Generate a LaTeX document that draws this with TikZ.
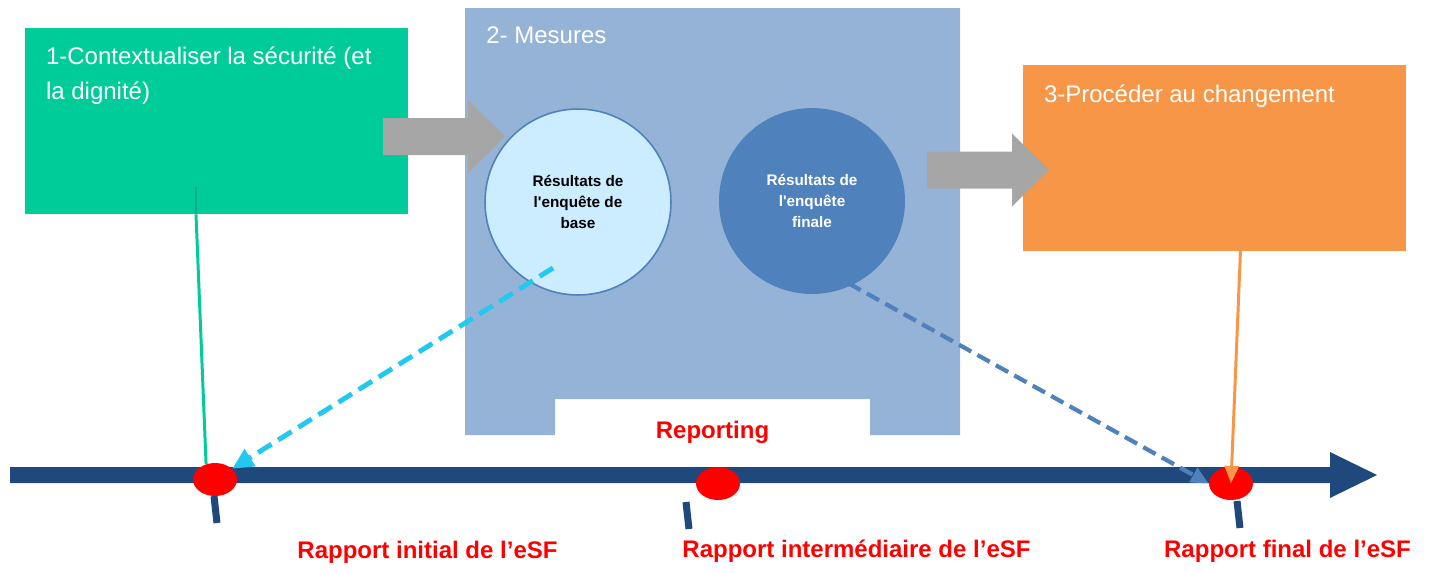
\documentclass[tikz,border=0pt]{standalone}
\usepackage{fontspec}
\setmainfont{Liberation Sans}
\usetikzlibrary{shapes,arrows.meta,positioning}

\definecolor{ctxgreen}{RGB}{0,204,153}
\definecolor{mesblue}{RGB}{149,179,215}
\definecolor{chgorange}{RGB}{247,150,70}
\definecolor{stepgray}{RGB}{166,166,166}
\definecolor{basefill}{RGB}{204,236,255}
\definecolor{finblue}{RGB}{79,129,189}
\definecolor{timeblue}{RGB}{31,73,125}
\definecolor{dashcyan}{RGB}{35,200,238}

\tikzset{
  phasebox/.style={rectangle, minimum width=7.66cm, minimum height=3.72cm, inner sep=0pt},
  phasetitle/.style={text=white, inner sep=0pt, align=left, font=\fontsize{13.66}{20.2}\selectfont},
  result/.style={circle, minimum size=3.72cm, inner sep=0pt, align=center, font=\fontsize{8.7}{11.95}\selectfont\bfseries},
  milestone/.style={ellipse, fill=red, minimum width=0.88cm, minimum height=0.66cm, inner sep=0pt},
  replabel/.style={text=red, inner sep=0pt, font=\fontsize{13.66}{16}\selectfont\bfseries},
  tickmark/.style={timeblue, line width=4pt},
}

\begin{document}
\begin{tikzpicture}[x=0.02cm, y=-0.02cm]
    \useasboundingbox (0,0) rectangle (1431,572);

    % Mesures panel with the reporting notch
    \fill[mesblue] (465,8) -- (960,8) -- (960,435) -- (870,435) -- (870,399)
        -- (555,399) -- (555,435) -- (465,435) -- cycle;
    \node[phasetitle, anchor=base west] (mestitle) at (486,43) {2- Mesures};

    \node[phasebox, fill=ctxgreen] (ctx) at (216.5,121) {};
    \node[phasetitle, below right=0.37cm and 0.42cm of ctx.north west] (ctxtitle)
        {1-Contextualiser la sécurité (et\\la dignité)};

    \node[phasebox, fill=chgorange] (chg) at (1214.5,158) {};
    \node[phasetitle, below right=0.40cm and 0.42cm of chg.north west] (chgtitle)
        {3-Procéder au changement};

    % gray step arrows
    \foreach \sx/\sy in {383/136.5,927/170} {
        \fill[stepgray] (\sx,\sy-18.5) -- ++(85,0) -- ++(0,-18) -- (\sx+122,\sy)
            -- (\sx+85,\sy+36.5) -- ++(0,-18) -- (\sx,\sy+18.5) -- cycle;
    }

    \node[result, fill=basefill, draw=finblue, line width=0.9pt] (base) at (578,202)
        {Résultats de\\l\textquotesingle enquête de\\base};
    \node[result, fill=finblue, text=white] (fin) at (812,201)
        {Résultats de\\l\textquotesingle enquête\\finale};

    % timeline
    \fill[timeblue] (10,467) -- (1330,467) -- (1330,452) -- (1377,475)
        -- (1330,498) -- (1330,483) -- (10,483) -- cycle;
    \draw[tickmark] (214,496) -- (217,523);
    \draw[tickmark] (686,502) -- (689,529);
    \draw[tickmark] (1237,501) -- (1240,528);

    \node[milestone] (dinit) at (215,479.5) {};
    \node[milestone] (dmid) at (718,483.5) {};
    \node[milestone] (dfinal) at (1231,483.5) {};

    \coordinate (ctxfoot) at (196,187);
    \coordinate (basefoot) at (553,268);
    \coordinate (finfoot) at (830,273);
    \coordinate (chgfoot) at (1241,238);

    \draw[ctxgreen!85!black, line width=1.7pt] (ctxfoot) -- (ctx.south -| ctxfoot);
    \draw[ctxgreen, line width=1.7pt] (ctx.south -| ctxfoot) -- (dinit.120);
    \draw[dashcyan, line width=2.8pt, dash pattern=on 9pt off 4.5pt,
        -{Triangle[length=12pt,width=11pt]}] (basefoot) -- (dinit);
    \draw[finblue, line width=2.4pt, dash pattern=on 8pt off 4pt,
        -{Triangle[length=10pt,width=9pt]}] (finfoot) -- (dfinal.west);
    \draw[chgorange, line width=1.7pt, -{Triangle[length=10pt,width=8pt]}] (chgfoot) -- (dfinal.center);

    \node[replabel, anchor=base] (lrep) at (712.5,438) {Reporting};
    \node[replabel, anchor=base] (linit) at (427.5,558) {Rapport initial de l'eSF};
    \node[replabel, anchor=base] (lmid) at (856.5,557) {Rapport intermédiaire de l'eSF};
    \node[replabel, anchor=base] (lfinal) at (1287.5,557) {Rapport final de l'eSF};
\end{tikzpicture}
\end{document}
